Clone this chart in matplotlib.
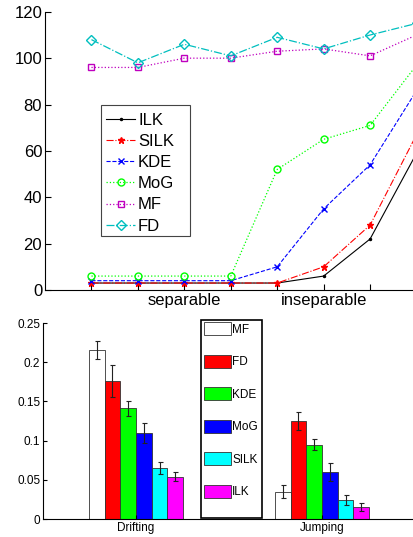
import numpy as np
import matplotlib
matplotlib.use('Agg')
from matplotlib import pyplot as plt
from matplotlib.patches import Rectangle

plt.rcParams['font.family'] = ['Liberation Sans', 'DejaVu Sans']

# top panel: values per method over 8 settings
steps = [1, 2, 3, 4, 5, 6, 7, 8]
step_labels = ['', '', 'separable', '', '', 'inseparable', '', '']
ilk = [3, 3, 3, 3, 3, 6, 22, 59]
silk = [3, 3, 3, 3, 3, 10, 28, 67]
kde = [4, 4, 4, 4, 10, 35, 54, 86]
mog = [6, 6, 6, 6, 52, 65, 71, 97]
mf = [96, 96, 100, 100, 103, 104, 101, 110]
fd = [108, 98, 106, 101, 109, 104, 110, 115]

# bottom panel: grouped bars with error bars
groups = ['Drifting', 'Jumping']
methods = ['MF', 'FD', 'KDE', 'MoG', 'SILK', 'ILK']
bar_vals = [[0.216, 0.035],
            [0.176, 0.125],
            [0.141, 0.095],
            [0.110, 0.060],
            [0.065, 0.024],
            [0.054, 0.015]]
bar_errs = [[0.0115, 0.008],
            [0.021, 0.0115],
            [0.0095, 0.0075],
            [0.013, 0.012],
            [0.008, 0.006],
            [0.006, 0.005]]
bar_colors = ['white', 'red', '#00ff00', 'blue', 'cyan', 'magenta']

fig = plt.figure(figsize=(4.13, 5.37), dpi=100)

# ---- top axes (runs past the right edge, like the cropped original)
ax1 = fig.add_axes([0.109, 0.460, 1.012, 0.518])
ax1.plot(steps, ilk, 'k-', marker='.', ms=3, lw=0.8, label='ILK')
ax1.plot(steps, silk, 'r-.', marker='*', ms=5, lw=0.8, label='SILK')
ax1.plot(steps, kde, 'b--', marker='x', ms=4, lw=0.8, label='KDE')
ax1.plot(steps, mog, color='#00ff00', ls=':', marker='o', ms=5, mfc='none', lw=0.9, label='MoG')
ax1.plot(steps, mf, 'm:', marker='s', ms=5, mfc='none', lw=0.9, label='MF')
ax1.plot(steps, fd, 'c-.', marker='D', ms=5, mfc='none', lw=0.9, label='FD')
ax1.set_xlim(0, 9)
ax1.set_ylim(0, 120)
ax1.set_xticks(steps)
ax1.set_xticklabels(step_labels, fontsize=12)
ax1.set_yticks(np.arange(0, 121, 20))
ax1.tick_params(direction='in', length=4, labelsize=12, pad=2)
ax1.spines['top'].set_visible(False)
ax1.spines['right'].set_visible(False)
ax1.legend(loc='upper left', bbox_to_anchor=(0.135, 0.655), fontsize=12,
           frameon=False, borderpad=0.3, labelspacing=0.37,
           handlelength=1.7, handletextpad=0.2, borderaxespad=0)
ax1.add_patch(Rectangle((0.134, 0.194), 0.213, 0.471, transform=ax1.transAxes,
                        fill=False, edgecolor='#444444', lw=0.8, clip_on=False, zorder=5))

# ---- bottom axes
ax2 = fig.add_axes([0.104, 0.0335, 0.901, 0.365])
x = np.arange(1, len(groups) + 1)
w = 0.0845
for i, m in enumerate(methods):
    pos = x + (i - 2.5) * w
    ax2.bar(pos, bar_vals[i], w, color=bar_colors[i], edgecolor='#333333',
            linewidth=0.6, label=m, yerr=bar_errs[i], capsize=1.8,
            error_kw=dict(ecolor='#222222', elinewidth=0.8, capthick=0.8))
ax2.set_xlim(0.5, 2.5)
ax2.set_ylim(0, 0.25)
ax2.set_xticks(x)
ax2.set_xticklabels(groups, fontsize=8.5)
ax2.set_yticks([0, 0.05, 0.1, 0.15, 0.2, 0.25])
ax2.set_yticklabels(['0', '0.05', '0.1', '0.15', '0.2', '0.25'])
ax2.tick_params(direction='in', length=3, labelsize=8.5, pad=2)
ax2.spines['top'].set_visible(False)
ax2.spines['right'].set_visible(False)
ax2.legend(loc='upper left', bbox_to_anchor=(0.426, 1.015), fontsize=8.5,
           frameon=False, borderpad=0.2, labelspacing=1.62,
           handlelength=2.3, handleheight=1.3, handletextpad=0.1,
           borderaxespad=0)
ax2.add_patch(Rectangle((0.425, 0.005), 0.164, 1.01, transform=ax2.transAxes,
                        fill=False, edgecolor='black', lw=1.2, clip_on=False, zorder=5))

fig.savefig('out.png', dpi=100)
